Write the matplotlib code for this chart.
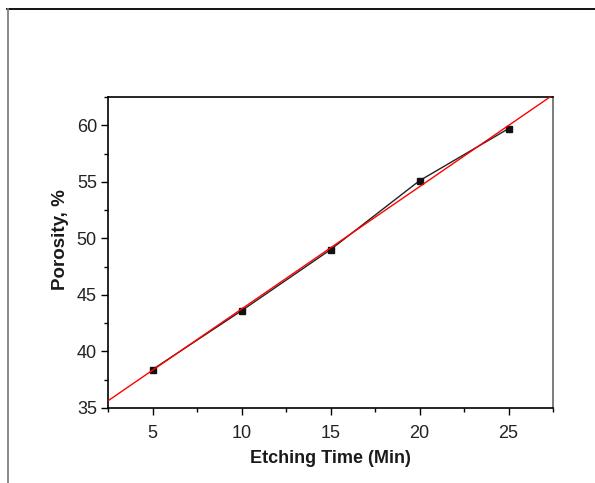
import numpy as np
import matplotlib
matplotlib.use("Agg")
import matplotlib.pyplot as plt
from matplotlib.lines import Line2D
from matplotlib.ticker import MultipleLocator

etching_time = [5, 10, 15, 20, 25]
porosity = [38.4, 43.6, 49.0, 55.1, 59.7]
x_ticks = [5, 10, 15, 20, 25]
y_ticks = [35, 40, 45, 50, 55, 60]

plt.rcParams['font.family'] = ['Liberation Sans', 'DejaVu Sans']

W, H = 595, 483
fig = plt.figure(figsize=(W / 100, H / 100), dpi=100)
ax = fig.add_axes([108 / W, 1 - 408 / H, (553 - 108) / W, (408 - 97) / H])

# outer frame lines
fig.add_artist(Line2D([7 / W, 1.0], [1 - 8.5 / H, 1 - 8.5 / H], transform=fig.transFigure,
                      color='black', lw=1.3))
fig.add_artist(Line2D([7.5 / W, 7.5 / W], [0, 1 - 8.5 / H], transform=fig.transFigure,
                      color='#808080', lw=1.3))

ax.plot(etching_time, porosity, color='#222222', lw=1.0, marker='s', ms=5,
        mfc='#111111', mec='#111111', zorder=3)

slope, intercept = np.polyfit(etching_time, porosity, 1)
xf = np.array([2.5, 27.5])
ax.plot(xf, slope * xf + intercept, color='#ff0000', lw=1.0, zorder=4)

ax.set_xlim(2.5, 27.5)
ax.set_ylim(35, 62.5)
ax.set_xticks(x_ticks)
ax.set_yticks(y_ticks)
ax.xaxis.set_minor_locator(MultipleLocator(2.5))
ax.yaxis.set_minor_locator(MultipleLocator(2.5))
ax.tick_params(which='major', direction='out', length=5, width=1, labelsize=13,
               top=False, right=False, colors='black', labelcolor='#222222')
ax.tick_params(axis='x', which='major', pad=7)
ax.tick_params(axis='y', which='major', pad=3)
ax.tick_params(which='minor', direction='out', length=3, width=1, top=False, right=False)
for s in ['left', 'bottom', 'top']:
    ax.spines[s].set_color('black')
    ax.spines[s].set_linewidth(1.2)
ax.spines['right'].set_color('#666666')
ax.spines['right'].set_linewidth(1.2)

ax.set_xlabel('Etching Time (Min)', fontsize=13, fontweight='bold', color='#1a1a1a', labelpad=6)
ax.set_ylabel('Porosity, %', fontsize=13.5, fontweight='bold', color='#1a1a1a', labelpad=7)
ax.yaxis.set_label_coords(-0.087, 0.54)

fig.savefig('out.png', dpi=100)
